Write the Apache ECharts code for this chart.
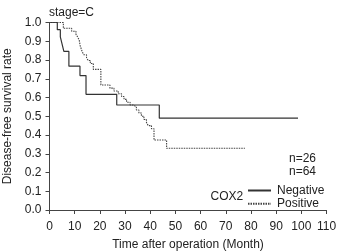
<!DOCTYPE html>
<html>
<head>
<meta charset="utf-8">
<script src="https://cdn.jsdelivr.net/npm/echarts@6/dist/echarts.min.js"></script>
<style>
html, body { margin: 0; padding: 0; background: #fff; }
#km { width: 340px; height: 251px; }
</style>
</head>
<body>
<div id="km"></div>
<script>
// COX2 negative (n=26) - time in months, survival
var negTime = [0, 3.1, 4.3, 5.0, 5.7, 7.7, 12.1, 14.5, 26.7, 43.6, 98.7];
var negSurv = [1.0, 0.962, 0.923, 0.885, 0.846, 0.767, 0.717, 0.617, 0.56, 0.49, 0.49];

// COX2 positive (n=64)
var posTime = [0, 5.5, 8.8, 10.5, 11.2, 11.8, 12.2, 12.6, 13.0, 13.6, 14.7, 15.4, 16.2, 17.4,
               20.4, 24.0, 25.6, 27.3, 28.6, 29.6, 30.6, 32.0, 33.3, 34.5, 35.5, 36.5, 37.5,
               38.5, 39.2, 40.5, 41.5, 46.5, 77.6];
var posSurv = [1.0, 0.969, 0.953, 0.937, 0.922, 0.906, 0.875, 0.859, 0.844, 0.828, 0.812, 0.797, 0.781, 0.75,
               0.667, 0.65, 0.635, 0.62, 0.605, 0.59, 0.575, 0.56, 0.55, 0.533, 0.517, 0.5, 0.483,
               0.467, 0.45, 0.433, 0.373, 0.329, 0.329];

var groupNames = ['Negative', 'Positive'];
var groupN = ['n=26', 'n=64'];

window.onload = function(){
    drawKM();
}

function pairs(xs, ys){
    var out = [];
    for (var i = 0; i < xs.length; i++) out.push([xs[i], ys[i]]);
    return out;
}

function drawKM(){
    var myChart = echarts.init(document.getElementById('km'));
    var font = 'Liberation Sans';
    var ink = '#222';

    var option = {
        animation: false,
        textStyle: { fontFamily: font },
        grid: { left: 49.5, right: 13.5, top: 22.5, bottom: 41, containLabel: false, outerBoundsMode: 'none' },
        title: {
            text: 'stage=C',
            left: 49, top: 7, padding: 0,
            textStyle: { fontSize: 12, fontWeight: 'normal', color: ink, fontFamily: font }
        },
        legend: {
            data: groupNames,
            orient: 'vertical',
            left: 247, top: 184.5, padding: 0,
            itemWidth: 23, itemHeight: 8, itemGap: 1.3,
            // hide the marker, keep the line sample
            itemStyle: { opacity: 0 },
            textStyle: { fontSize: 12, color: ink, fontFamily: font, padding: [0, 0, 0, 1] }
        },
        graphic: [
            { type: 'text', right: 24, top: 153, style: { text: groupN[0], font: '12px ' + font, fill: ink } },
            { type: 'text', right: 24, top: 165.7, style: { text: groupN[1], font: '12px ' + font, fill: ink } },
            { type: 'text', left: 210.5, top: 190.5, style: { text: 'COX2', font: '12px ' + font, fill: ink } }
        ],
        xAxis: {
            type: 'value',
            min: 0, max: 110, interval: 10,
            offset: 3,
            name: 'Time after operation (Month)',
            nameLocation: 'middle', nameGap: 26,
            nameTextStyle: { fontSize: 12, color: ink },
            axisLine: { lineStyle: { color: '#444', width: 1 } },
            axisTick: { length: 4, lineStyle: { color: '#444' } },
            axisLabel: { fontSize: 12, color: ink, margin: 8 },
            splitLine: { show: false }
        },
        yAxis: {
            type: 'value',
            min: 0, max: 1, interval: 0.1,
            offset: 2,
            name: 'Disease-free survival rate',
            nameLocation: 'middle', nameGap: 33,
            nameTextStyle: { fontSize: 12, color: ink },
            axisLine: { show: true, lineStyle: { color: '#444', width: 1 } },
            axisTick: { show: true, length: 4, lineStyle: { color: '#444' } },
            axisLabel: { fontSize: 12, color: ink, margin: 6, formatter: function(v){ return v.toFixed(1); } },
            splitLine: { show: false }
        },
        series: [
            {
                name: groupNames[0],
                type: 'line',
                step: 'end',
                symbol: 'none',
                data: pairs(negTime, negSurv),
                lineStyle: { color: '#333', width: 1.2, type: 'solid' },
                itemStyle: { color: '#333' }
            },
            {
                name: groupNames[1],
                type: 'line',
                step: 'end',
                symbol: 'none',
                data: pairs(posTime, posSurv),
                lineStyle: { color: '#444', width: 1.1, type: [1.5, 1] },
                itemStyle: { color: '#444' }
            }
        ]
    };

    myChart.setOption(option);
}
</script>
</body>
</html>
